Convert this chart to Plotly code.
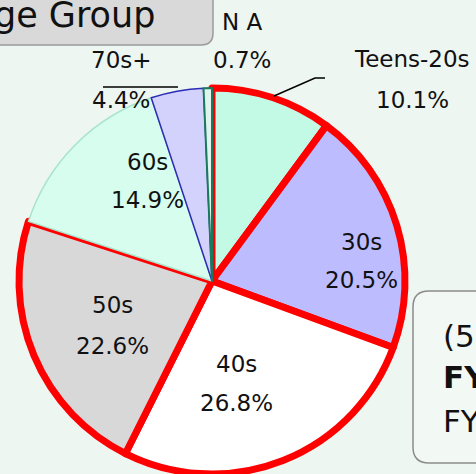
import plotly.graph_objects as go

# ---- data ----
categories = ["Teens-20s", "30s", "40s", "50s", "60s", "70s+", "N A"]
shares = [10.1, 20.5, 26.8, 22.6, 14.9, 4.4, 0.7]
title_text = "Age Group"
note_lines = ["(5,000 respondents)", "<b>FY2024</b>", "FY2023"]

W, H = 476, 474
BG = "#eef6f1"
FONT = "DejaVu Sans"

def fx(px):
    return px / W

def fy(py):
    return 1 - py / H

fills = ["#c2fae6", "#bcbcff", "#ffffff", "#d8d8d8", "#d6fdee", "#d2d2fc", "#dff4ec"]
lines = ["#ff0000", "#ff0000", "#ff0000", "#ff0000", "#a8e4cb", "#2c2cb4", "#1b7a5c"]
widths = [7, 7, 7, 7, 1.5, 1.5, 2]

cx, cy, r = 212, 281, 193

fig = go.Figure(go.Pie(
    labels=categories,
    values=shares,
    sort=False,
    direction="clockwise",
    rotation=0,
    marker=dict(colors=fills, line=dict(color=lines, width=widths)),
    textinfo="none",
    hoverinfo="skip",
    showlegend=False,
    domain=dict(x=[fx(cx - r), fx(cx + r)], y=[fy(cy + r), fy(cy - r)]),
))

# label placement (center x, line-1 center y, line-2 center y) per category
label_pos = [(412, 59, 100), (361, 242, 280), (236, 364, 403),
             (112, 305, 346), (147, 162, 200), (121, 60, 100), (242, 22, 60)]

annotations = []
for idx, (xc, y1, y2) in enumerate(label_pos):
    annotations.append(dict(x=fx(xc), y=fy(y1), xref="paper", yref="paper",
                            text=categories[idx], showarrow=False,
                            xanchor="center", yanchor="middle",
                            font=dict(family=FONT, size=23, color="#111111")))
    annotations.append(dict(x=fx(xc), y=fy(y2), xref="paper", yref="paper",
                            text=f"{shares[idx]:.1f}%", showarrow=False,
                            xanchor="center", yanchor="middle",
                            font=dict(family=FONT, size=23, color="#111111")))

# title
annotations.append(dict(x=fx(157), y=fy(15), xref="paper", yref="paper",
                        text=title_text, showarrow=False,
                        xanchor="right", yanchor="middle",
                        font=dict(family=FONT, size=35, color="#111111")))
# note box lines
for t, yc in zip(note_lines, [336, 377, 421]):
    annotations.append(dict(x=fx(441), y=fy(yc), xref="paper", yref="paper",
                            text=t, showarrow=False,
                            xanchor="left", yanchor="middle",
                            font=dict(family=FONT, size=31, color="#111111")))

shapes = [
    # title box with rounded bottom-right corner
    dict(type="path", xref="paper", yref="paper",
         path=(f"M {fx(-5)},{fy(-5)} L {fx(213)},{fy(-5)} L {fx(213)},{fy(33)} "
               f"Q {fx(213)},{fy(45)} {fx(201)},{fy(45)} L {fx(-5)},{fy(45)} Z"),
         fillcolor="#d9d9d9", line=dict(color="#9a9a9a", width=1.5), layer="below"),
    # note box with rounded left corners
    dict(type="path", xref="paper", yref="paper",
         path=(f"M {fx(429)},{fy(291)} L {fx(495)},{fy(291)} L {fx(495)},{fy(463)} "
               f"L {fx(429)},{fy(463)} Q {fx(413)},{fy(463)} {fx(413)},{fy(447)} "
               f"L {fx(413)},{fy(307)} Q {fx(413)},{fy(291)} {fx(429)},{fy(291)} Z"),
         fillcolor="#f2f8f4", line=dict(color="#8c8c8c", width=1.5), layer="below"),
    # leader lines
    dict(type="path", xref="paper", yref="paper",
         path=f"M {fx(274)},{fy(96)} L {fx(315)},{fy(78)} L {fx(325)},{fy(78)}",
         line=dict(color="#000000", width=1.5)),
    dict(type="line", xref="paper", yref="paper",
         x0=fx(103), y0=fy(87), x1=fx(178), y1=fy(87),
         line=dict(color="#000000", width=1.5)),
]

fig.update_layout(
    width=W, height=H, autosize=False,
    margin=dict(l=0, r=0, t=0, b=0),
    paper_bgcolor=BG, plot_bgcolor=BG,
    annotations=annotations, shapes=shapes,
    font=dict(family=FONT),
)

fig.write_html(
    "out.html",
    config=dict(displayModeBar=False),
    post_script="document.body.style.margin='0px';document.body.style.overflow='hidden';",
)
